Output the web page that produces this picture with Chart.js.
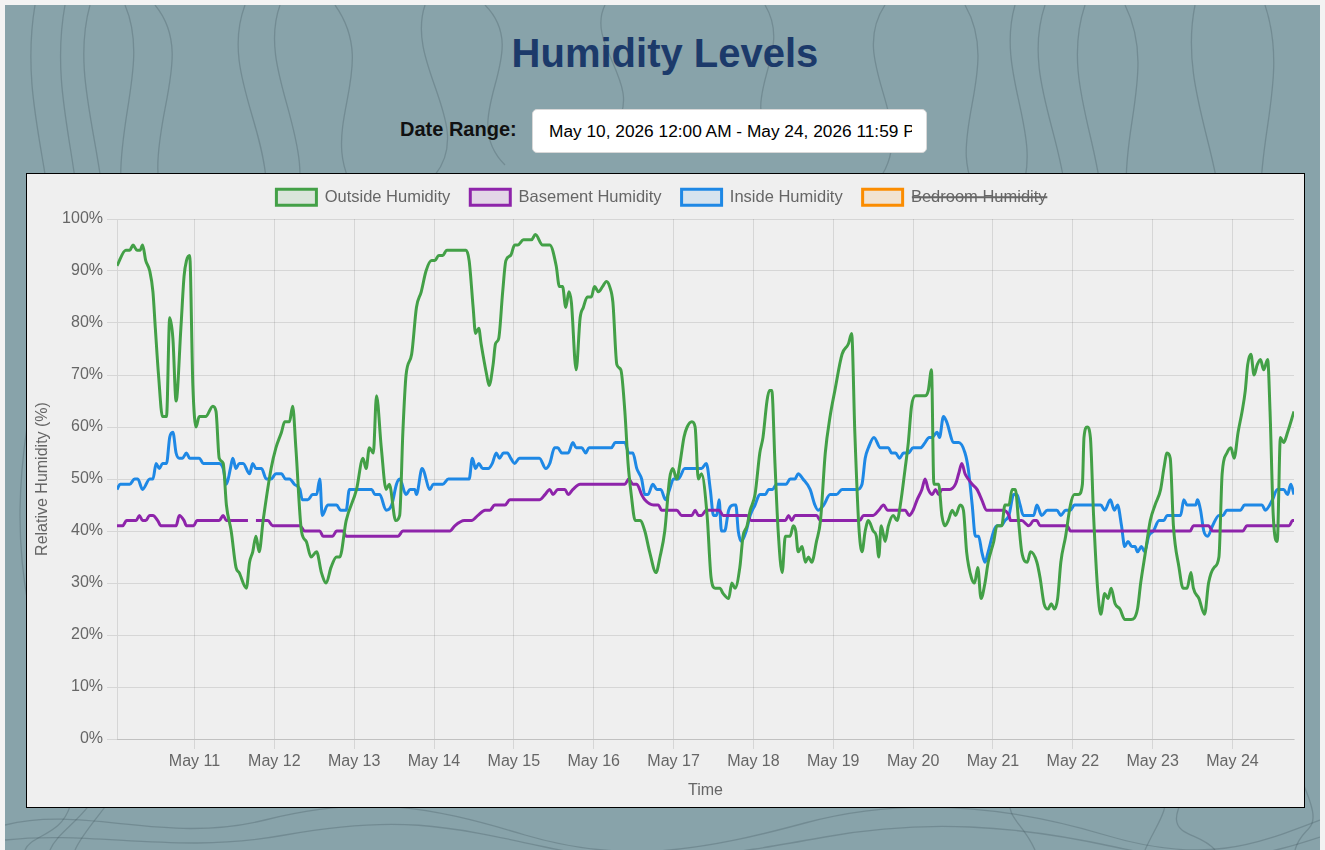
<!DOCTYPE html>
<html><head><meta charset="utf-8">
<script src="https://cdn.jsdelivr.net/npm/chart.js@4.4.1/dist/chart.umd.min.js"></script>
<style>
html,body{margin:0;padding:0;width:1325px;height:850px;overflow:hidden;background:#f3f3f3;font-family:"Liberation Sans",Arial,sans-serif;}
#page{position:absolute;left:5px;top:5px;width:1315px;height:845px;background:#88a3aa;overflow:hidden;}
#page svg{position:absolute;left:0;top:0;}
#title{position:absolute;left:0;width:1330px;top:30px;height:46px;line-height:46px;margin:0;text-align:center;font-weight:bold;font-size:40px;color:#1c3a6a;font-family:"Liberation Sans",Arial,sans-serif;}
#dlabel{position:absolute;left:400px;top:117px;line-height:24px;font-size:20px;font-weight:bold;color:#111;}
#drange{position:absolute;left:532px;top:109px;width:395px;height:44px;box-sizing:border-box;border:1px solid #d8d8d8;border-radius:5px;background:#fff;padding:0 14px 0 16px;font-family:"Liberation Sans",Arial,sans-serif;font-size:17.3px;color:#000;outline:none;}
#box{position:absolute;left:26px;top:173px;width:1279px;height:635px;box-sizing:border-box;border:1px solid #000;background:#efefef;}
#c{position:absolute;left:0;top:0;}
</style></head>
<body>
<div id="page">
<svg width="1315" height="845" viewBox="0 0 1315 845" fill="none" stroke="rgba(55,75,80,0.26)" stroke-width="1.3">
<path d="M30 0 C10 120 70 200 40 330 S0 560 50 700 S30 820 20 845"/>
<path d="M60 0 C40 110 95 190 68 310 S25 540 80 670 S60 810 45 845"/>
<path d="M85 0 C60 90 120 180 95 300 S50 520 110 640 S90 800 70 845"/>
<path d="M120 0 C150 70 90 150 130 240 S190 330 125 430"/>
<path d="M150 0 C200 60 120 140 170 230 S230 330 160 420"/>
<path d="M240 0 C210 80 290 150 250 240 S200 360 270 450"/>
<path d="M275 0 C250 70 320 140 285 220"/>
<path d="M330 0 C380 70 300 130 360 200 S420 300 340 380"/>
<path d="M420 0 C400 60 470 120 430 170"/>
<path d="M480 0 C530 50 450 110 500 160"/>
<path d="M600 0 C580 40 640 80 610 120"/>
<path d="M760 0 C790 50 730 90 770 140"/>
<path d="M880 0 C840 60 920 120 870 180"/>
<path d="M960 0 C1000 70 930 140 980 200"/>
<path d="M1010 0 C990 70 1040 130 1015 190"/>
<path d="M1040 0 C1010 90 1090 170 1050 260 S1000 360 1070 450 S1100 620 1040 720 S1010 800 1030 845"/>
<path d="M1080 0 C1050 90 1120 170 1090 260 S1050 360 1100 450"/>
<path d="M1120 0 C1160 80 1090 160 1140 250 S1180 350 1120 440 S1080 600 1130 700 S1160 800 1140 845"/>
<path d="M1190 0 C1170 100 1240 180 1210 280 S1160 420 1230 520 S1260 680 1200 760 S1190 820 1210 845"/>
<path d="M1260 0 C1290 90 1230 170 1270 260 S1310 380 1260 480 S1230 640 1280 740 S1300 810 1290 845"/>
<path d="M0 820 C80 800 160 840 260 815 S420 800 520 830 S700 845 800 818 S1000 800 1100 830 S1250 840 1315 815"/>
<path d="M0 835 C90 825 170 850 280 830 S440 820 540 842 S720 850 820 832 S1010 820 1110 842 S1260 850 1315 832"/>
</svg>
</div>
<div id="title">Humidity Levels</div>
<div id="dlabel">Date Range:</div>
<input id="drange" type="text" readonly value="May 10, 2026 12:00 AM - May 24, 2026 11:59 PM">
<div id="box"><canvas id="c" width="1277" height="633"></canvas></div>
<script>
// x values are days since May 10, 2026 00:00 ; y values are relative humidity (%)
const outsideHumidity = [[0.03,91],[0.14,94],[0.19,94],[0.23,95],[0.28,94],[0.32,94],[0.35,95],[0.39,92],[0.44,90],[0.48,86],[0.51,79],[0.55,70],[0.60,62],[0.65,62],[0.69,81],[0.73,77],[0.77,65],[0.83,79],[0.87,89],[0.90,92],[0.94,93],[0.98,68],[1.02,60],[1.06,62],[1.14,62],[1.23,64],[1.27,63],[1.31,54],[1.36,53],[1.40,45],[1.46,40],[1.52,33],[1.56,32],[1.65,29],[1.69,34],[1.73,36],[1.77,39],[1.81,36],[1.86,42],[1.96,52],[2.02,56],[2.09,59],[2.13,61],[2.19,61],[2.23,64],[2.27,56],[2.34,40],[2.40,38],[2.46,35],[2.53,36],[2.59,32],[2.65,30],[2.71,33],[2.78,35],[2.82,35],[2.90,42],[3.03,48],[3.11,54],[3.15,52],[3.19,56],[3.24,55],[3.28,66],[3.34,56],[3.40,48],[3.44,49],[3.52,42],[3.57,43],[3.61,59],[3.65,70],[3.72,74],[3.78,83],[3.84,86],[3.90,90],[3.97,92],[4.01,92],[4.06,93],[4.11,93],[4.16,94],[4.40,94],[4.44,92],[4.49,83],[4.52,78],[4.56,79],[4.59,76],[4.66,70],[4.69,68],[4.74,72],[4.77,76],[4.81,77],[4.86,86],[4.90,92],[4.96,93],[5.01,95],[5.05,95],[5.12,96],[5.22,96],[5.27,97],[5.36,95],[5.45,95],[5.53,91],[5.57,87],[5.61,87],[5.65,83],[5.69,86],[5.72,84],[5.78,71],[5.83,81],[5.87,83],[5.92,85],[5.97,85],[6.01,87],[6.06,86],[6.11,87],[6.16,88],[6.20,87],[6.24,84],[6.29,72],[6.34,71],[6.39,63],[6.43,53],[6.47,47],[6.52,42],[6.58,42],[6.64,40],[6.70,36],[6.78,32],[6.83,35],[6.89,40],[6.95,50],[6.99,52],[7.04,50],[7.08,53],[7.13,58],[7.17,60],[7.23,61],[7.27,60],[7.31,50],[7.35,51],[7.42,43],[7.47,31],[7.52,29],[7.58,29],[7.62,28],[7.69,27],[7.73,30],[7.77,29],[7.83,33],[7.87,39],[7.92,41],[7.96,44],[8.02,47],[8.08,55],[8.12,58],[8.17,65],[8.20,67],[8.23,67],[8.27,53],[8.31,40],[8.36,32],[8.40,39],[8.46,39],[8.50,41],[8.53,40],[8.56,36],[8.61,37],[8.65,34],[8.69,35],[8.73,34],[8.79,38],[8.84,42],[8.90,55],[8.96,62],[9.02,67],[9.11,74],[9.19,76],[9.23,78],[9.27,59],[9.32,41],[9.36,36],[9.40,40],[9.44,42],[9.50,40],[9.54,39],[9.57,35],[9.60,41],[9.65,38],[9.69,41],[9.75,43],[9.80,42],[9.84,45],[9.90,52],[9.94,57],[9.98,64],[10.03,66],[10.15,66],[10.19,67],[10.23,71],[10.26,49],[10.32,49],[10.36,43],[10.40,41],[10.44,42],[10.49,44],[10.53,43],[10.59,45],[10.63,44],[10.67,36],[10.73,31],[10.77,30],[10.81,33],[10.85,27],[10.90,30],[10.94,34],[11.01,38],[11.05,41],[11.11,41],[11.15,45],[11.20,45],[11.24,48],[11.28,48],[11.32,42],[11.36,36],[11.43,34],[11.47,36],[11.55,34],[11.59,31],[11.64,26],[11.69,25],[11.73,26],[11.77,25],[11.81,27],[11.85,34],[11.91,39],[11.97,45],[12.02,47],[12.07,47],[12.12,49],[12.14,58],[12.18,60],[12.22,58],[12.26,43],[12.31,29],[12.35,24],[12.40,28],[12.44,27],[12.48,29],[12.53,26],[12.59,25],[12.65,23],[12.73,23],[12.81,25],[12.85,30],[12.91,36],[12.97,42],[13.03,45],[13.10,48],[13.14,52],[13.18,55],[13.22,54],[13.26,41],[13.33,33],[13.38,29],[13.43,29],[13.48,32],[13.51,29],[13.58,27],[13.65,24],[13.70,30],[13.77,33],[13.83,35],[13.87,51],[13.93,55],[13.98,56],[14.02,54],[14.07,59],[14.12,63],[14.16,67],[14.19,72],[14.23,74],[14.27,70],[14.31,72],[14.35,73],[14.39,71],[14.44,73],[14.47,63],[14.51,43],[14.56,38],[14.60,58],[14.64,57],[14.69,59],[14.77,63]];

const basementHumidity = [[0.03,41],[0.10,41],[0.15,42],[0.27,42],[0.31,43],[0.35,42],[0.39,42],[0.44,43],[0.48,43],[0.54,42],[0.58,41],[0.77,41],[0.81,43],[0.87,42],[0.90,41],[0.99,41],[1.03,42],[1.31,42],[1.36,43],[1.40,42],[1.67,42],[1.72,null],[1.77,42],[1.92,42],[1.98,41],[2.32,41],[2.38,40],[2.57,40],[2.61,39],[2.73,39],[2.78,40],[2.86,40],[2.90,39],[3.55,39],[3.61,40],[4.20,40],[4.26,41],[4.38,42],[4.47,42],[4.55,43],[4.64,44],[4.70,44],[4.76,45],[4.89,45],[4.95,46],[5.32,46],[5.39,47],[5.45,48],[5.49,47],[5.55,48],[5.64,48],[5.68,47],[5.74,48],[5.83,49],[6.39,49],[6.44,50],[6.49,49],[6.54,49],[6.60,47],[6.64,46],[6.75,45],[6.81,45],[6.85,44],[7.04,44],[7.10,43],[7.23,43],[7.27,44],[7.31,43],[7.35,43],[7.41,44],[7.57,44],[7.62,43],[7.92,43],[7.97,42],[8.40,42],[8.44,43],[8.48,42],[8.52,43],[8.79,43],[8.84,42],[9.33,42],[9.38,43],[9.50,43],[9.57,44],[9.63,45],[9.68,44],[9.90,44],[9.95,43],[10.00,44],[10.05,46],[10.11,48],[10.15,50],[10.19,48],[10.24,47],[10.28,48],[10.32,47],[10.36,48],[10.46,48],[10.53,49],[10.57,51],[10.61,53],[10.65,51],[10.69,50],[10.74,49],[10.80,48],[10.86,46],[10.92,44],[11.13,44],[11.20,43],[11.22,42],[11.36,42],[11.45,41],[11.51,42],[11.55,42],[11.59,41],[11.93,41],[11.97,40],[13.47,40],[13.51,41],[13.70,41],[13.75,40],[14.13,40],[14.18,41],[14.71,41],[14.75,42],[14.77,42]];

const insideHumidity = [[0.03,48],[0.07,49],[0.19,49],[0.25,50],[0.29,50],[0.35,48],[0.44,50],[0.48,50],[0.52,53],[0.56,52],[0.60,53],[0.65,53],[0.69,58],[0.73,59],[0.77,55],[0.81,54],[0.85,54],[0.90,55],[0.94,54],[1.06,54],[1.11,53],[1.31,53],[1.36,52],[1.40,49],[1.45,52],[1.48,54],[1.52,52],[1.56,53],[1.61,53],[1.69,51],[1.73,53],[1.77,52],[1.84,52],[1.90,50],[1.96,50],[2.02,51],[2.09,51],[2.14,50],[2.19,50],[2.25,49],[2.32,48],[2.35,46],[2.42,46],[2.48,47],[2.53,47],[2.57,50],[2.60,43],[2.67,45],[2.78,45],[2.83,44],[2.90,44],[2.94,48],[3.22,48],[3.26,47],[3.32,47],[3.40,44],[3.47,45],[3.53,49],[3.57,50],[3.65,47],[3.70,48],[3.76,48],[3.78,47],[3.85,52],[3.95,48],[3.99,49],[4.11,49],[4.18,50],[4.36,50],[4.44,50],[4.48,54],[4.52,52],[4.56,53],[4.61,52],[4.68,52],[4.73,53],[4.78,55],[4.82,54],[4.87,55],[4.92,55],[4.96,54],[5.01,53],[5.07,54],[5.32,54],[5.40,52],[5.45,53],[5.51,56],[5.55,56],[5.60,55],[5.68,55],[5.74,57],[5.78,56],[5.85,56],[5.90,55],[5.94,56],[6.22,56],[6.27,57],[6.39,57],[6.44,55],[6.49,55],[6.54,52],[6.60,50],[6.64,47],[6.68,47],[6.74,49],[6.79,48],[6.84,48],[6.90,46],[6.95,48],[7.00,50],[7.06,50],[7.14,52],[7.35,52],[7.41,53],[7.46,48],[7.50,43],[7.54,43],[7.57,46],[7.60,40],[7.64,40],[7.69,44],[7.75,45],[7.78,45],[7.81,40],[7.85,38],[7.91,40],[7.96,43],[8.02,45],[8.08,47],[8.15,47],[8.19,48],[8.24,48],[8.29,49],[8.41,49],[8.46,50],[8.52,50],[8.56,51],[8.62,50],[8.71,48],[8.77,45],[8.81,44],[8.88,45],[8.96,47],[9.04,47],[9.11,48],[9.30,48],[9.36,49],[9.40,54],[9.44,56],[9.51,58],[9.59,56],[9.65,56],[9.69,56],[9.73,55],[9.78,55],[9.83,54],[9.88,55],[9.94,55],[10.00,56],[10.09,56],[10.15,57],[10.20,58],[10.24,58],[10.30,59],[10.33,58],[10.38,62],[10.42,61],[10.51,57],[10.57,57],[10.65,55],[10.69,52],[10.74,45],[10.78,39],[10.82,39],[10.86,36],[10.90,34],[10.94,36],[11.01,40],[11.05,41],[11.10,41],[11.15,42],[11.20,43],[11.26,47],[11.30,47],[11.34,45],[11.38,43],[11.51,43],[11.55,45],[11.61,43],[11.68,44],[11.80,44],[11.85,43],[11.91,44],[11.97,44],[12.02,45],[12.35,45],[12.40,44],[12.47,46],[12.52,44],[12.56,45],[12.61,41],[12.65,37],[12.69,38],[12.74,37],[12.78,37],[12.81,36],[12.86,37],[12.90,36],[12.95,39],[13.01,40],[13.08,42],[13.14,42],[13.18,43],[13.35,43],[13.39,46],[13.43,45],[13.54,45],[13.56,46],[13.60,44],[13.64,40],[13.69,39],[13.75,41],[13.83,43],[13.88,43],[13.93,44],[14.10,44],[14.15,45],[14.37,45],[14.41,44],[14.50,46],[14.56,48],[14.64,48],[14.69,47],[14.73,49],[14.77,47]];

const bedroomHumidity = []; // hidden series (struck through in the legend)

const dayLabels = ['May 11','May 12','May 13','May 14','May 15','May 16','May 17','May 18','May 19','May 20','May 21','May 22','May 23','May 24'];
const dayTicks = [1,2,3,4,5,6,7,8,9,10,11,12,13,14];
const yTicks = [0,10,20,30,40,50,60,70,80,90,100];

const toPts = arr => arr.map(p => ({x: p[0], y: p[1]}));

Chart.defaults.font.family = "'Liberation Sans', Arial, sans-serif";
Chart.defaults.font.size = 16;
Chart.defaults.color = '#666';

const legendFit = {
  id: 'legendFit',
  afterInit(chart) {
    const lg = chart.legend;
    if (!lg) return;
    const orig = lg.fit;
    lg.fit = function () { orig.call(this); this.height = 50; };
  }
};

function ds(label, data, color, bg, hidden) {
  return {
    label, data: toPts(data), borderColor: color, backgroundColor: bg,
    borderWidth: 3, pointRadius: 0, pointHoverRadius: 0, fill: false,
    cubicInterpolationMode: 'monotone', spanGaps: false, hidden: !!hidden
  };
}

new Chart(document.getElementById('c'), {
  type: 'line',
  data: {
    datasets: [
      ds('Outside Humidity', outsideHumidity, '#43a047', 'rgba(67,160,71,0.12)'),
      ds('Basement Humidity', basementHumidity, '#8e24aa', 'rgba(142,36,170,0.12)'),
      ds('Inside Humidity', insideHumidity, '#1e88e5', 'rgba(30,136,229,0.12)'),
      ds('Bedroom Humidity', bedroomHumidity, '#fb8c00', 'rgba(251,140,0,0.12)', true)
    ]
  },
  plugins: [legendFit],
  options: {
    responsive: false,
    animation: false,
    layout: { padding: { left: 2, right: 10, top: -5, bottom: 3 } },
    plugins: {
      legend: {
        position: 'top',
        labels: { boxWidth: 40, boxHeight: 16, padding: 20, font: { size: 16.5 }, color: '#666' }
      },
      tooltip: { enabled: false }
    },
    scales: {
      x: {
        type: 'linear',
        min: 0.03,
        max: 14.77,
        afterBuildTicks: s => { s.ticks = dayTicks.map(v => ({ value: v })); },
        afterFit: s => { s.height = 65; },
        ticks: {
          autoSkip: false, maxRotation: 0, padding: 3,
          callback: v => dayLabels[dayTicks.indexOf(v)] || ''
        },
        grid: { tickLength: 10 },
        title: { display: true, text: 'Time', font: { size: 16 }, color: '#666' }
      },
      y: {
        type: 'linear',
        min: 0, max: 100,
        afterBuildTicks: s => { s.ticks = yTicks.map(v => ({ value: v })); },
        afterFit: s => { s.width = 88; },
        ticks: { padding: 4, callback: v => v + '%' },
        grid: { tickLength: 10 },
        title: { display: true, text: 'Relative Humidity (%)', font: { size: 16 }, color: '#666' }
      }
    }
  }
});
</script>
</body></html>
